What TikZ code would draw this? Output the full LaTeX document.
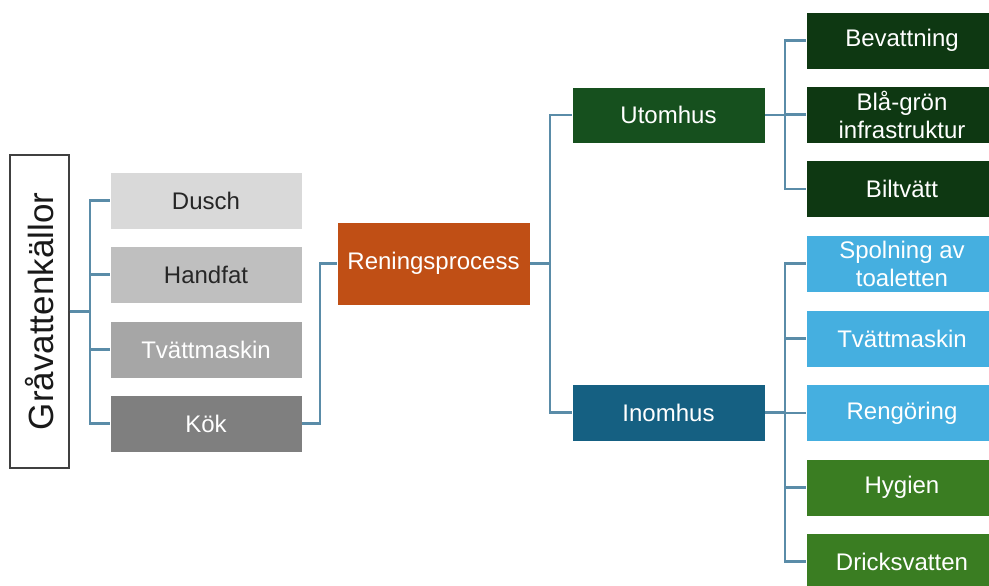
\documentclass[tikz,border=0pt]{standalone}
\usepackage{fontspec}
\setmainfont{Liberation Sans}
\usetikzlibrary{calc}

\definecolor{linkblue}{HTML}{5A8CA8}
\definecolor{grayA}{HTML}{D9D9D9}
\definecolor{grayB}{HTML}{BFBFBF}
\definecolor{grayC}{HTML}{A6A6A6}
\definecolor{grayD}{HTML}{7F7F7F}
\definecolor{rustorange}{HTML}{C04F15}
\definecolor{outgreen}{HTML}{16501E}
\definecolor{deepgreen}{HTML}{0E3812}
\definecolor{inblue}{HTML}{156082}
\definecolor{skyblue}{HTML}{45AFE0}
\definecolor{leafgreen}{HTML}{3A7D22}
\definecolor{darktext}{HTML}{262626}

\tikzset{
  box/.style={draw=white, line width=0.6pt, minimum width=192pt, minimum height=57pt,
    inner sep=0pt, align=center, font=\fontsize{24}{28}\selectfont, text=white},
  conn/.style={draw=linkblue, line width=2.1pt},
}

\begin{document}
\begin{tikzpicture}[x=1pt, y=-1pt]
  \useasboundingbox (0,0) rectangle (989,586);
  \fill[white] (0,0) rectangle (989,586);

  % source column
  \node[draw=black!75, line width=1.4pt, fill=white, minimum width=59pt, minimum height=313pt,
        inner sep=0pt] (src) at (39.5,311.5) {};
  \node[rotate=90, font=\fontsize{35}{38}\selectfont, text=black!90] (srclabel) at (src.center) {Gråvattenkällor};

  \node[box, fill=grayA, text=darktext] (dusch)   at (206,200.5) {Dusch};
  \node[box, fill=grayB, text=darktext] (handfat) at (206,274.5) {Handfat};
  \node[box, fill=grayC] (tvatt)   at (206,349.5) {Tvättmaskin};
  \node[box, fill=grayD] (kok)     at (206,423.5) {Kök};

  % treatment
  \node[box, fill=rustorange, minimum width=193pt, minimum height=83pt] (ren) at (433.5,263.5) {Reningsprocess};

  % outdoor / indoor
  \node[box, fill=outgreen, minimum width=193pt, minimum height=56pt] (ute) at (668.5,115) {Utomhus};
  \node[box, fill=inblue, minimum width=193pt] (inne) at (668.5,412.5) {Inomhus};

  % outdoor uses
  \node[box, fill=deepgreen] (bev)  at (902,40.5)  {Bevattning};
  \node[box, fill=deepgreen] (bla)  at (902,114.5) {Blå-grön\\infrastruktur};
  \node[box, fill=deepgreen] (bil)  at (902,189)   {Biltvätt};

  % indoor uses
  \node[box, fill=skyblue]   (spol) at (902,263.5) {Spolning av\\toaletten};
  \node[box, fill=skyblue]   (tvm)  at (902,338.5) {Tvättmaskin};
  \node[box, fill=skyblue]   (reng) at (902,413)   {Rengöring};
  \node[box, fill=leafgreen] (hyg)  at (902,487.5) {Hygien};
  \node[box, fill=leafgreen] (dri)  at (902,561.5) {Dricksvatten};

  % connectors
  \foreach \t in {dusch,handfat,tvatt,kok}
    \draw[conn] (src.east) -- ++(20,0) |- (\t.west);
  \draw[conn] (kok.east) -- ++(18,0) |- (ren.west);
  \foreach \t in {ute,inne}
    \draw[conn] (ren.east) -- ++(20,0) |- (\t.west);
  \foreach \t in {bev,bla,bil}
    \draw[conn] (ute.east) -- ++(20,0) |- (\t.west);
  \foreach \t in {spol,tvm,reng,hyg,dri}
    \draw[conn] (inne.east) -- ++(20,0) |- (\t.west);
\end{tikzpicture}
\end{document}
